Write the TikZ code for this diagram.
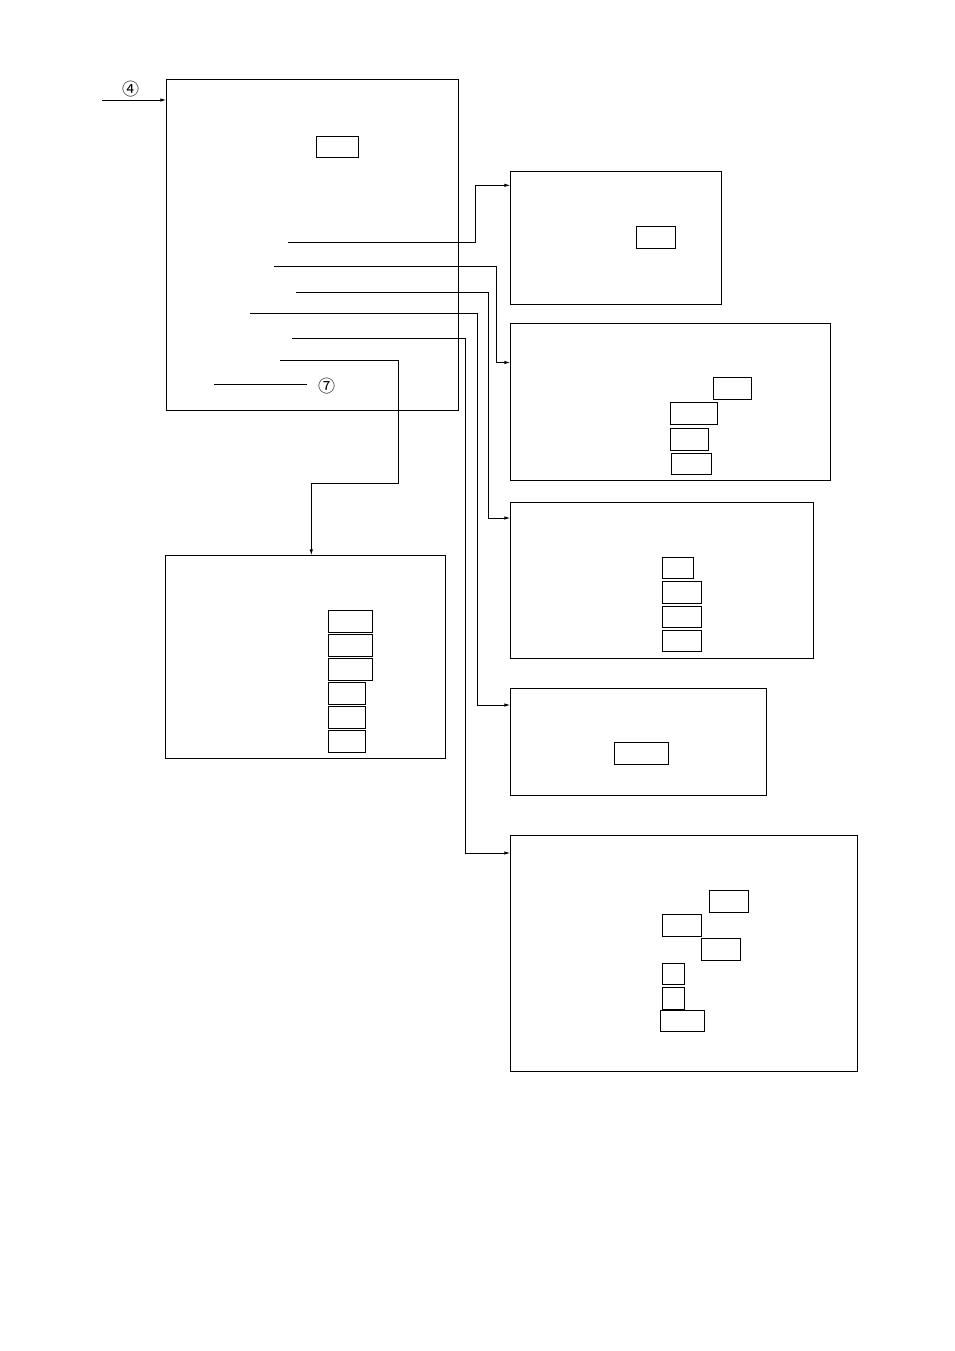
\documentclass[tikz,border=0pt]{standalone}
\usepackage{fontspec}
\newfontfamily\symfont{Noto Sans CJK JP}
\usetikzlibrary{arrows.meta,positioning}

\begin{document}
\begin{tikzpicture}[
    x=1pt, y=-1pt,
    line width=0.9pt,
    unit/.style={rectangle, draw, inner sep=0pt, outer sep=0pt, anchor=north west},
    cell/.style={rectangle, draw, inner sep=0pt, outer sep=0pt, anchor=north west},
    flow/.style={-{Latex[length=6pt,width=3.5pt]}},
    mark label/.style={font=\symfont\fontsize{17}{17}\selectfont, inner sep=0pt}
]
\useasboundingbox (0,0) rectangle (954,1351);

% main block
\node[unit, minimum width=292pt, minimum height=330.7pt] (main) at (166.3,79.3) {};
\node[cell, minimum width=42pt, minimum height=21pt] (mcell) at (316.3,136.3) {};

% target blocks
\node[unit, minimum width=211pt, minimum height=133pt] (box1) at (510.3,171.3) {};
\node[cell, minimum width=39pt, minimum height=22pt] (b1a) at (636.3,226.3) {};

\node[unit, minimum width=320pt, minimum height=157pt] (box2) at (510.3,323.3) {};
\node[cell, minimum width=38pt, minimum height=22pt] (b2a) at (713.3,377.3) {};
\node[cell, minimum width=47pt, minimum height=22pt] (b2b) at (670.3,402.3) {};
\node[cell, minimum width=38pt, minimum height=22pt] (b2c) at (670.3,428.3) {};
\node[cell, minimum width=40pt, minimum height=21pt] (b2d) at (671.3,453.3) {};

\node[unit, minimum width=303pt, minimum height=156pt] (box3) at (510.3,502.3) {};
\node[cell, minimum width=31pt, minimum height=21pt] (b3a) at (662.3,557.3) {};
\node[cell, minimum width=39pt, minimum height=22pt] (b3b) at (662.3,581.3) {};
\node[cell, minimum width=39pt, minimum height=21pt] (b3c) at (662.3,606.3) {};
\node[cell, minimum width=39pt, minimum height=21pt] (b3d) at (662.3,630.3) {};

\node[unit, minimum width=256pt, minimum height=107pt] (box4) at (510.3,688.3) {};
\node[cell, minimum width=54pt, minimum height=22pt] (b4a) at (614.3,742.3) {};

\node[unit, minimum width=347pt, minimum height=235.7pt] (box5) at (510.3,835.3) {};
\node[cell, minimum width=39pt, minimum height=22pt] (b5a) at (709.3,890.3) {};
\node[cell, minimum width=39pt, minimum height=22pt] (b5b) at (662.3,914.3) {};
\node[cell, minimum width=39pt, minimum height=22pt] (b5c) at (701.3,938.3) {};
\node[cell, minimum width=22pt, minimum height=21pt] (b5d) at (662.3,963.3) {};
\node[cell, minimum width=22pt, minimum height=22pt] (b5e) at (662.3,987.3) {};
\node[cell, minimum width=44pt, minimum height=21pt] (b5f) at (660.3,1010.3) {};

\node[unit, minimum width=280pt, minimum height=202.7pt] (box6) at (165.3,555.3) {};
\node[cell, minimum width=44pt, minimum height=22pt] (b6a) at (328.3,610.3) {};
\node[cell, minimum width=44pt, minimum height=22pt] (b6b) at (328.3,634.3) {};
\node[cell, minimum width=44pt, minimum height=22pt] (b6c) at (328.3,658.3) {};
\node[cell, minimum width=37pt, minimum height=22pt] (b6d) at (328.3,682.3) {};
\node[cell, minimum width=37pt, minimum height=22pt] (b6e) at (328.3,706.3) {};
\node[cell, minimum width=37pt, minimum height=22pt] (b6f) at (328.3,730.3) {};

% input
\coordinate (in) at (102,100);
\node[mark label] (m4) at (130.7,89) {④};
\draw[flow] (in) -- (in -| main.west);

% outputs
\coordinate (s1) at (288,242.3);
\coordinate (k1) at (475.3,185.3);
\draw[flow] (s1) -| (k1) -- (k1 -| box1.west);

\coordinate (s2) at (274,266.3);
\coordinate (k2) at (496.3,362.5);
\draw[flow] (s2) -| (k2) -- (k2 -| box2.west);

\coordinate (s3) at (296,292.3);
\coordinate (k3) at (488.3,518);
\draw[flow] (s3) -| (k3) -- (k3 -| box3.west);

\coordinate (s4) at (250,313.3);
\coordinate (k4) at (477.3,705);
\draw[flow] (s4) -| (k4) -- (k4 -| box4.west);

\coordinate (s5) at (292,338);
\coordinate (k5) at (465.7,853);
\draw[flow] (s5) -| (k5) -- (k5 -| box5.west);

\coordinate (s6) at (280,360.3);
\coordinate (k6) at (311.3,483.3);
\draw[flow] (s6) -| (398.3,483.3) -- (k6) -- (k6 |- box6.north);

\coordinate (s7) at (214,384);
\coordinate (t7) at (306.7,384);
\node[mark label] (m7) at (326.7,386) {⑦};
\draw (s7) -- (t7);

\end{tikzpicture}
\end{document}
